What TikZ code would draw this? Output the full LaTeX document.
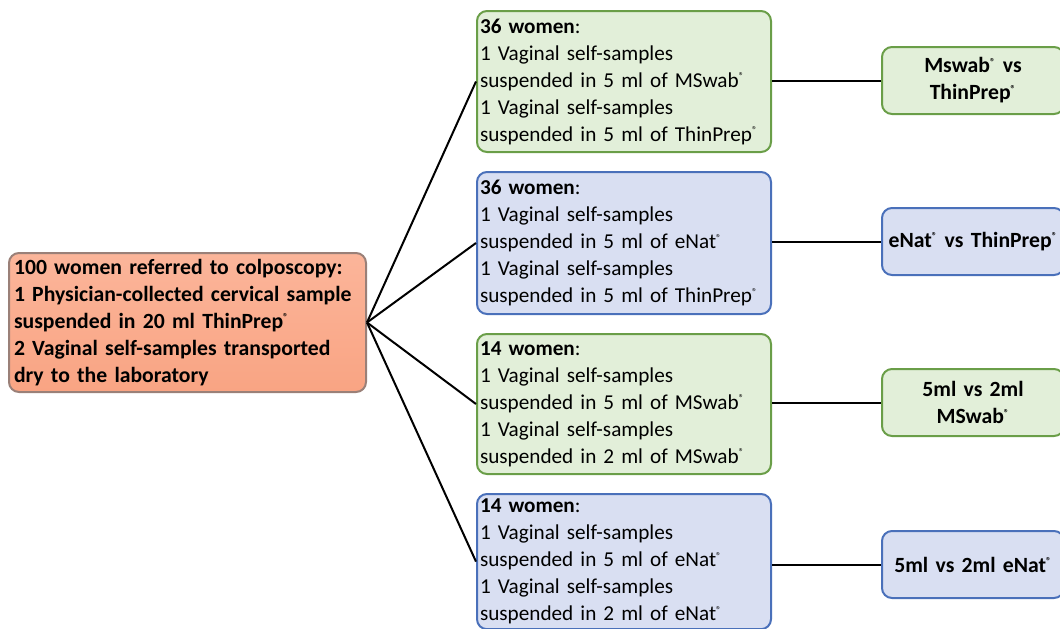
\documentclass[tikz,border=0pt]{standalone}
\usepackage{fontspec}
\setmainfont{Carlito}
\usepackage{tikz}
\usepackage{xcolor}
\definecolor{orfill}{HTML}{F9A483}
\definecolor{orfilltop}{HTML}{FBB59A}
\definecolor{ordraw}{HTML}{9A8078}
\definecolor{grfill}{HTML}{E2EFD9}
\definecolor{grdraw}{HTML}{6A9E48}
\definecolor{blfill}{HTML}{D9DFF2}
\definecolor{bldraw}{HTML}{4A70BA}
\newcommand{\regd}{\textsuperscript{\fontsize{10}{10}\selectfont ®}}

\begin{document}
\begin{tikzpicture}[x=1pt, y=-1pt,
    every node/.style={font=\fontsize{21.7}{27}\selectfont},
    box/.style={draw, line width=2pt, rounded corners=10pt, anchor=north west, inner sep=5pt},
    origbox/.style={box, draw=ordraw, top color=orfilltop, bottom color=orfill, minimum width=357pt, minimum height=139pt, text width=347pt, align=left, font=\fontsize{21.7}{27}\selectfont\bfseries},
    arm/.style={box, minimum width=294pt, inner xsep=3pt, text width=288pt, align=left, font=\fontsize{21.2}{27}\selectfont},
    armg/.style={arm, draw=grdraw, fill=grfill},
    armb/.style={arm, draw=bldraw, fill=blfill},
    cmp/.style={box, minimum width=182pt, minimum height=67pt, text width=172pt, align=center, font=\fontsize{21.7}{27}\selectfont\bfseries},
    cmpg/.style={cmp, draw=grdraw, fill=grfill},
    cmpb/.style={cmp, draw=bldraw, fill=blfill},
    link/.style={line width=2pt}]
  \useasboundingbox (0,0) rectangle (1060,629);

  % starting group
  \node[origbox] (women) at (8,252) {100 women referred to colposcopy:\\
    1 Physician-collected cervical sample\\
    suspended in 20 ml ThinPrep\regd\\
    2 Vaginal self-samples transported\\
    dry to the laboratory};

  % study arms
  \node[armg, minimum height=141pt] (arm1) at (476,10) {\textbf{36 women}:\\
    1 Vaginal self-samples\\ suspended in 5 ml of MSwab\regd\\
    1 Vaginal self-samples\\ suspended in 5 ml of ThinPrep\regd};
  \node[armb, minimum height=142pt] (arm2) at (476,171) {\textbf{36 women}:\\
    1 Vaginal self-samples\\ suspended in 5 ml of eNat\regd\\
    1 Vaginal self-samples\\ suspended in 5 ml of ThinPrep\regd};
  \node[armg, minimum height=140pt] (arm3) at (476,333) {\textbf{14 women}:\\
    1 Vaginal self-samples\\ suspended in 5 ml of MSwab\regd\\
    1 Vaginal self-samples\\ suspended in 2 ml of MSwab\regd};
  \node[armb, minimum height=134pt] (arm4) at (476,493) {\textbf{14 women}:\\
    1 Vaginal self-samples\\ suspended in 5 ml of eNat\regd\\
    1 Vaginal self-samples\\ suspended in 2 ml of eNat\regd};

  % comparisons
  \node[cmpg] (cmp1) at (881,46) {Mswab\regd{} vs\\ ThinPrep\regd};
  \node[cmpb] (cmp2) at (881,207) {eNat\regd{} vs ThinPrep\regd};
  \node[cmpg] (cmp3) at (881,368) {5ml vs 2ml\\ MSwab\regd};
  \node[cmpb] (cmp4) at (881,530) {5ml vs 2ml eNat\regd};

  \coordinate (fan) at (women.east);
  \foreach \i in {1,...,4} {
    \draw[link] (fan) -- (arm\i.west);
    \draw[link] (cmp\i.west -| arm\i.east) -- (cmp\i.west);
  }
\end{tikzpicture}
\end{document}
